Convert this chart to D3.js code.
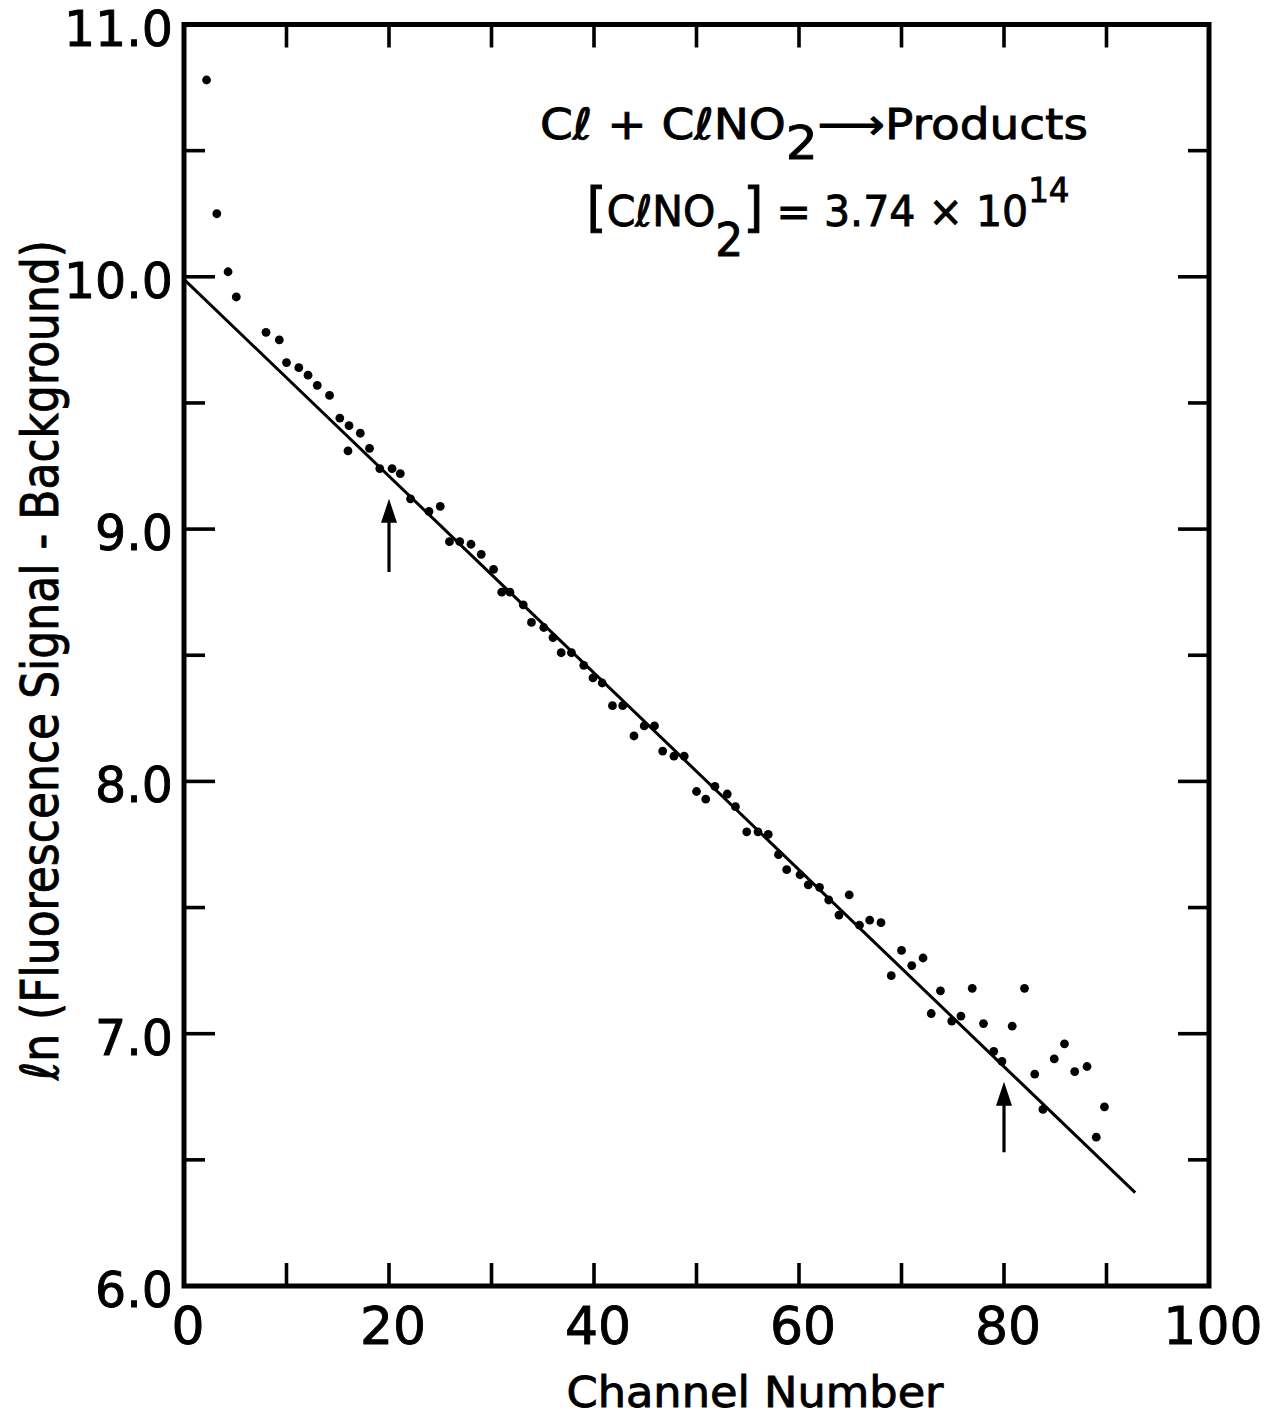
<!DOCTYPE html>
<html lang="en">
<head>
  <meta charset="UTF-8">
  <title>Cl + ClNO2 decay</title>
  <script src="https://d3js.org/d3.v7.min.js"></script>
  <style>
    body { margin: 0; background: #fff; }
    svg { display: block; }
    text { font-family: "DejaVu Sans", sans-serif; fill: #000; stroke: #000; stroke-width: 0.9px; }
  </style>
</head>
<body>
  <div id="chart"></div>

  <script>
    // channel number of each point
    const channel = [2.2, 3.2, 4.3, 5.1, 8.0, 9.3, 10.0, 11.2, 12.1, 13.0,
      14.2, 15.2, 16.1, 16.0, 17.2, 18.1, 19.1, 20.3, 21.1, 22.1,
      23.9, 25.0, 25.9, 26.9, 28.0, 29.0, 30.2, 31.0, 31.8, 33.1,
      33.9, 35.1, 36.0, 36.8, 37.8, 39.0, 39.9, 40.8, 41.8, 42.8,
      43.9, 44.9, 45.9, 46.7, 47.8, 48.8, 50.0, 50.9, 51.8, 53.0,
      53.8, 54.9, 56.0, 57.0, 58.0, 58.8, 60.1, 60.9, 62.0, 62.9,
      63.9, 64.9, 65.9, 66.9, 68.0, 69.0, 70.0, 71.0, 72.1, 72.9,
      73.8, 74.9, 75.8, 76.9, 78.0, 79.0, 79.8, 80.8, 82.0, 83.0,
      83.8, 84.9, 85.9, 86.9, 88.1, 89.0, 89.8];
    // ln(signal - background)
    const lnSignal = [10.78, 10.25, 10.02, 9.92, 9.78, 9.75, 9.66, 9.64, 9.61, 9.57,
      9.53, 9.44, 9.41, 9.31, 9.38, 9.32, 9.24, 9.24, 9.22, 9.12,
      9.07, 9.09, 8.95, 8.95, 8.94, 8.90, 8.84, 8.75, 8.75, 8.70,
      8.63, 8.61, 8.57, 8.51, 8.51, 8.46, 8.41, 8.39, 8.30, 8.30,
      8.18, 8.22, 8.22, 8.12, 8.10, 8.10, 7.96, 7.93, 7.98, 7.95,
      7.90, 7.80, 7.80, 7.79, 7.71, 7.65, 7.63, 7.59, 7.58, 7.53,
      7.47, 7.55, 7.43, 7.45, 7.44, 7.23, 7.33, 7.27, 7.30, 7.08,
      7.17, 7.05, 7.07, 7.18, 7.04, 6.93, 6.89, 7.03, 7.18, 6.84,
      6.70, 6.90, 6.96, 6.85, 6.87, 6.59, 6.71];

    // fitted line end points
    const fitChannel = [0, 92.8];
    const fitLn = [9.99, 6.37];

    // arrows marking the fit range
    const arrowChannel = [20, 80];
    const arrowBase = [8.83, 6.53];
    const arrowTip = [9.12, 6.81];

    const xTickLabels = ["0", "20", "40", "60", "80", "100"];
    const yTickLabels = ["6.0", "7.0", "8.0", "9.0", "10.0", "11.0"];

    const width = 1264, height = 1417;
    const plotL = 184, plotR = 1209, plotT = 24.5, plotB = 1286;

    const svg = d3.select("#chart").append("svg")
      .attr("width", width)
      .attr("height", height);

    svg.append("rect").attr("width", width).attr("height", height).attr("fill", "#fff");

    const x = d3.scaleLinear().domain([0, 100]).range([plotL, plotR]);
    const y = d3.scaleLinear().domain([6, 11]).range([plotB, plotT]);

    // ticks, all pointing inward
    const xt = d3.range(0, 101, 10);
    const yt = d3.range(6, 11.01, 0.5);
    const ticks = svg.append("g").attr("stroke", "#000").attr("stroke-width", 3.6);
    xt.slice(1, -1).forEach(v => {
      ticks.append("line").attr("x1", x(v)).attr("x2", x(v)).attr("y1", plotB).attr("y2", plotB - 23);
      ticks.append("line").attr("x1", x(v)).attr("x2", x(v)).attr("y1", plotT).attr("y2", plotT + 23);
    });
    yt.slice(1, -1).forEach(v => {
      const len = Number.isInteger(v) ? 31 : 21;
      ticks.append("line").attr("x1", plotL).attr("x2", plotL + len).attr("y1", y(v)).attr("y2", y(v));
      ticks.append("line").attr("x1", plotR).attr("x2", plotR - len).attr("y1", y(v)).attr("y2", y(v));
    });

    // frame
    svg.append("rect")
      .attr("x", plotL).attr("y", plotT)
      .attr("width", plotR - plotL).attr("height", plotB - plotT)
      .attr("fill", "none").attr("stroke", "#000").attr("stroke-width", 5);

    // tick labels
    svg.append("g").selectAll("text")
      .data(xTickLabels)
      .join("text")
      .attr("x", d => x(+d) + 4)
      .attr("y", 1344)
      .attr("text-anchor", "middle")
      .style("font-size", "52px")
      .text(d => d);

    svg.append("g").selectAll("text")
      .data(yTickLabels)
      .join("text")
      .attr("x", 173)
      .attr("y", d => y(parseFloat(d)) + 21)
      .attr("text-anchor", "end")
      .style("font-size", "49px")
      .text(d => d);

    // axis titles
    svg.append("text")
      .attr("x", 755).attr("y", 1407)
      .attr("text-anchor", "middle")
      .attr("textLength", 377)
      .attr("lengthAdjust", "spacingAndGlyphs")
      .style("font-size", "43px")
      .text("Channel Number");

    svg.append("text")
      .attr("transform", "translate(58,660) rotate(-90)")
      .attr("text-anchor", "middle")
      .attr("textLength", 840)
      .attr("lengthAdjust", "spacingAndGlyphs")
      .style("font-size", "52px")
      .text("\u2113n (Fluorescence Signal - Background)");

    // fitted line
    const line = d3.line().x(d => x(d[0])).y(d => y(d[1]));
    svg.append("path")
      .datum(d3.zip(fitChannel, fitLn))
      .attr("d", line)
      .attr("fill", "none")
      .attr("stroke", "#000")
      .attr("stroke-width", 3);

    // points
    svg.append("g").selectAll("circle")
      .data(d3.zip(channel, lnSignal))
      .join("circle")
      .attr("cx", d => x(d[0]))
      .attr("cy", d => y(d[1]))
      .attr("r", 4.4)
      .attr("fill", "#000");

    // arrows
    const arrows = svg.append("g");
    arrowChannel.forEach((c, i) => {
      const ax = x(c), yb = y(arrowBase[i]), ytip = y(arrowTip[i]);
      arrows.append("line")
        .attr("x1", ax).attr("x2", ax)
        .attr("y1", yb).attr("y2", ytip + 15)
        .attr("stroke", "#000").attr("stroke-width", 3.2);
      arrows.append("path")
        .attr("d", `M${ax},${ytip} L${ax - 8},${ytip + 24} L${ax + 8},${ytip + 24} Z`)
        .attr("fill", "#000");
    });

    // reaction annotation
    const ann1 = svg.append("text")
      .attr("x", 814).attr("y", 139)
      .attr("text-anchor", "middle")
      .attr("textLength", 548)
      .attr("lengthAdjust", "spacingAndGlyphs")
      .style("font-size", "43px");
    ann1.append("tspan").text("C\u2113 + C\u2113NO");
    ann1.append("tspan").attr("dy", 20).style("font-size", "46px").text("2");
    ann1.append("tspan").attr("dy", -20).text("\u27F6Products");

    const ann2 = svg.append("text")
      .attr("x", 828).attr("y", 226)
      .attr("text-anchor", "middle")
      .attr("textLength", 483)
      .attr("lengthAdjust", "spacingAndGlyphs")
      .style("font-size", "43px");
    ann2.append("tspan").style("font-size", "54px").text("[");
    ann2.append("tspan").text("C\u2113NO");
    ann2.append("tspan").attr("dy", 30).style("font-size", "46px").text("2");
    ann2.append("tspan").attr("dy", -30).style("font-size", "54px").text("]");
    ann2.append("tspan").text(" = 3.74 \u00D7 10");
    ann2.append("tspan").attr("dy", -24).style("font-size", "34px").text("14");
  </script>
</body>
</html>
